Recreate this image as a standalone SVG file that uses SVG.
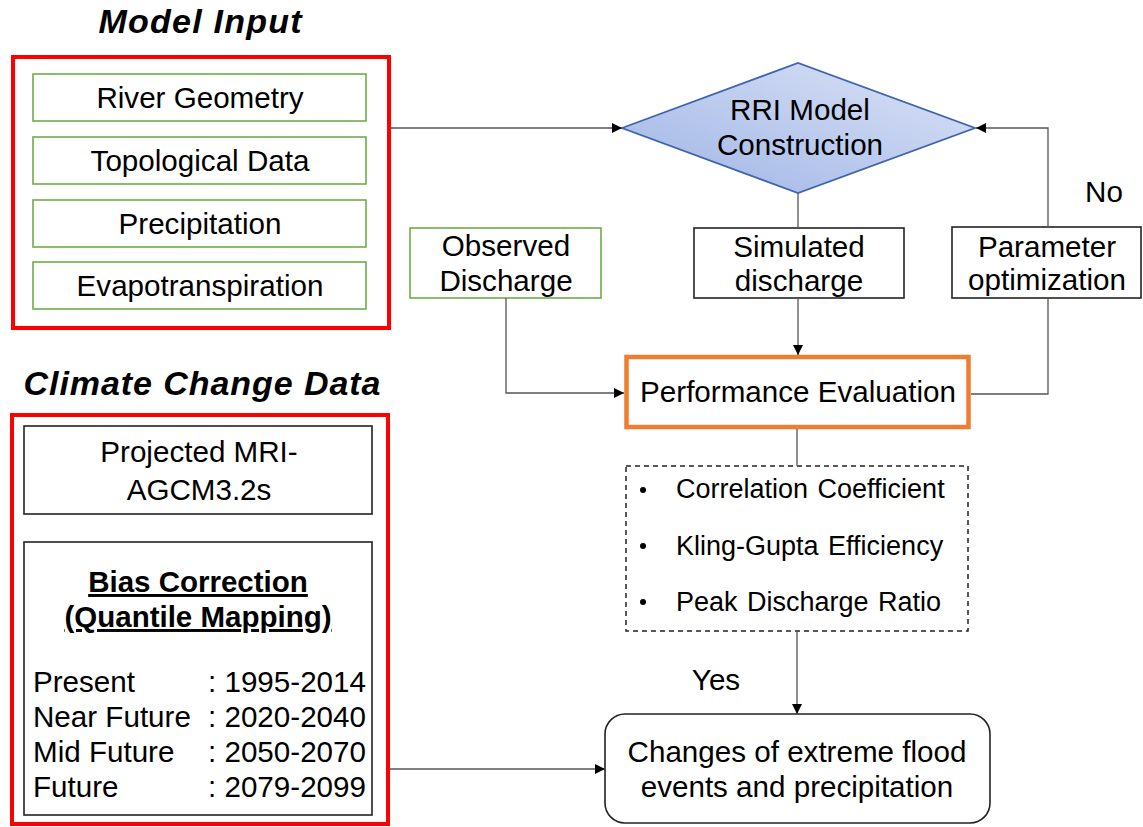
<svg xmlns="http://www.w3.org/2000/svg" width="1143" height="827" viewBox="0 0 1143 827">
  <style>
    text { font-family: "Liberation Sans", Arial, sans-serif; fill: #000; }
    .t { font-size: 29.6px; text-anchor: middle; }
    .tl { font-size: 29.6px; }
    .title { font-size: 34px; font-weight: bold; font-style: italic; text-anchor: middle; }
    .b { font-size: 29.5px; font-weight: bold; text-anchor: middle; text-decoration: underline; }
    .m { font-size: 27px; word-spacing: 2px; }
    .grp { fill: none; stroke: #ff0000; stroke-width: 4; }
    .green { fill: #fff; stroke: #70ad47; stroke-width: 1.6; }
    .plain { fill: #fff; stroke: #222; stroke-width: 1.6; }
    .conn { fill: none; stroke: #555; stroke-width: 1.3; }
  </style>
  <defs>
    <marker id="arrow" viewBox="0 0 10 10" refX="10" refY="5" markerWidth="10" markerHeight="10" markerUnits="userSpaceOnUse" orient="auto">
      <path d="M0,0 L10,5 L0,10 Z" fill="#000"/>
    </marker>
    <linearGradient id="diamondFill" x1="1" y1="0" x2="0" y2="1">
      <stop offset="0" stop-color="#dbe3f6"/>
      <stop offset="1" stop-color="#9fb4e6"/>
    </linearGradient>
  </defs>

  <rect width="1143" height="827" fill="#fff"/>

  <!-- Model input group -->
  <g id="model-input">
    <text class="title" x="200" y="33" textLength="203" lengthAdjust="spacing">Model Input</text>
    <rect class="grp" x="13" y="57" width="376" height="271"/>
  </g>
  <g id="river-geometry">
    <rect class="green" x="33" y="74" width="333" height="47"/>
    <text class="t" x="200" y="108">River Geometry</text>
  </g>
  <g id="topological-data">
    <rect class="green" x="33" y="137" width="333" height="47"/>
    <text class="t" x="200" y="171">Topological Data</text>
  </g>
  <g id="precipitation">
    <rect class="green" x="33" y="200" width="333" height="47"/>
    <text class="t" x="200" y="234">Precipitation</text>
  </g>
  <g id="evapotranspiration">
    <rect class="green" x="33" y="262" width="333" height="47"/>
    <text class="t" x="200" y="296">Evapotranspiration</text>
  </g>

  <!-- Climate change data group -->
  <g id="climate-change-data">
    <text class="title" x="202" y="395" textLength="357" lengthAdjust="spacing">Climate Change Data</text>
    <rect class="grp" x="12" y="415" width="376" height="409"/>
  </g>
  <g id="projected-gcm">
    <rect class="plain" x="24" y="426" width="348" height="88"/>
    <text class="t" x="199" y="462">Projected MRI-</text>
    <text class="t" x="199" y="500">AGCM3.2s</text>
  </g>
  <g id="bias-correction">
    <rect class="plain" x="24" y="542" width="348" height="273"/>
    <text class="b" x="198" y="592">Bias Correction</text>
    <text class="b" x="198" y="627">(Quantile Mapping)</text>
    <text class="tl" x="33" y="692">Present</text>
    <text class="tl" x="208" y="692">: 1995-2014</text>
    <text class="tl" x="33" y="727">Near Future</text>
    <text class="tl" x="208" y="727">: 2020-2040</text>
    <text class="tl" x="33" y="762">Mid Future</text>
    <text class="tl" x="208" y="762">: 2050-2070</text>
    <text class="tl" x="33" y="797">Future</text>
    <text class="tl" x="208" y="797">: 2079-2099</text>
  </g>

  <!-- Model construction -->
  <g id="rri-model">
    <polygon points="622,128 798,63 975,128 798,193" fill="url(#diamondFill)" stroke="#3f65ad" stroke-width="1.8"/>
    <text class="t" x="800" y="120">RRI Model</text>
    <text class="t" x="800" y="155">Construction</text>
  </g>
  <g id="observed-discharge">
    <rect class="green" x="410" y="228" width="191" height="70"/>
    <text class="t" x="506" y="256">Observed</text>
    <text class="t" x="506" y="291">Discharge</text>
  </g>
  <g id="simulated-discharge">
    <rect class="plain" x="694" y="228" width="210" height="70"/>
    <text class="t" x="799" y="257">Simulated</text>
    <text class="t" x="799" y="291">discharge</text>
  </g>
  <g id="parameter-optimization">
    <rect class="plain" x="952" y="227" width="189" height="71"/>
    <text class="t" x="1047" y="257">Parameter</text>
    <text class="t" x="1047" y="290">optimization</text>
  </g>
  <g id="performance-evaluation">
    <rect x="626.5" y="357" width="342" height="70" fill="#fff" stroke="#ed7d31" stroke-width="4.5"/>
    <text class="t" x="798" y="402">Performance Evaluation</text>
  </g>
  <g id="metrics">
    <rect x="626" y="466" width="342" height="165" fill="#fff" stroke="#222" stroke-width="1.5" stroke-dasharray="5,4"/>
    <circle cx="643" cy="490" r="3" fill="#000"/>
    <text class="m" x="676" y="498">Correlation Coefficient</text>
    <circle cx="643" cy="546" r="3" fill="#000"/>
    <text class="m" x="676" y="555">Kling-Gupta Efficiency</text>
    <circle cx="643" cy="602" r="3" fill="#000"/>
    <text class="m" x="676" y="611">Peak Discharge Ratio</text>
  </g>
  <g id="flood-changes">
    <rect class="plain" x="605" y="714" width="385" height="109" rx="20" ry="20"/>
    <text class="t" x="797" y="762">Changes of extreme flood</text>
    <text class="t" x="797" y="797">events and precipitation</text>
  </g>

  <!-- Connectors -->
  <g id="connectors">
    <line class="conn" x1="391" y1="128" x2="622" y2="128" marker-end="url(#arrow)"/>
    <line class="conn" x1="798" y1="193" x2="798" y2="228"/>
    <line class="conn" x1="798" y1="298" x2="798" y2="355" marker-end="url(#arrow)"/>
    <polyline class="conn" points="506,298 506,393 624,393" marker-end="url(#arrow)"/>
    <polyline class="conn" points="971,394 1048,394 1048,298"/>
    <polyline class="conn" points="1048,227 1048,128 976,128" marker-end="url(#arrow)"/>
    <line class="conn" x1="797" y1="429" x2="797" y2="466"/>
    <line class="conn" x1="797" y1="631" x2="797" y2="714" marker-end="url(#arrow)"/>
    <line class="conn" x1="390" y1="769" x2="605" y2="769" marker-end="url(#arrow)"/>
    <text class="t" x="1104" y="202">No</text>
    <text class="t" x="716" y="690">Yes</text>
  </g>
</svg>
